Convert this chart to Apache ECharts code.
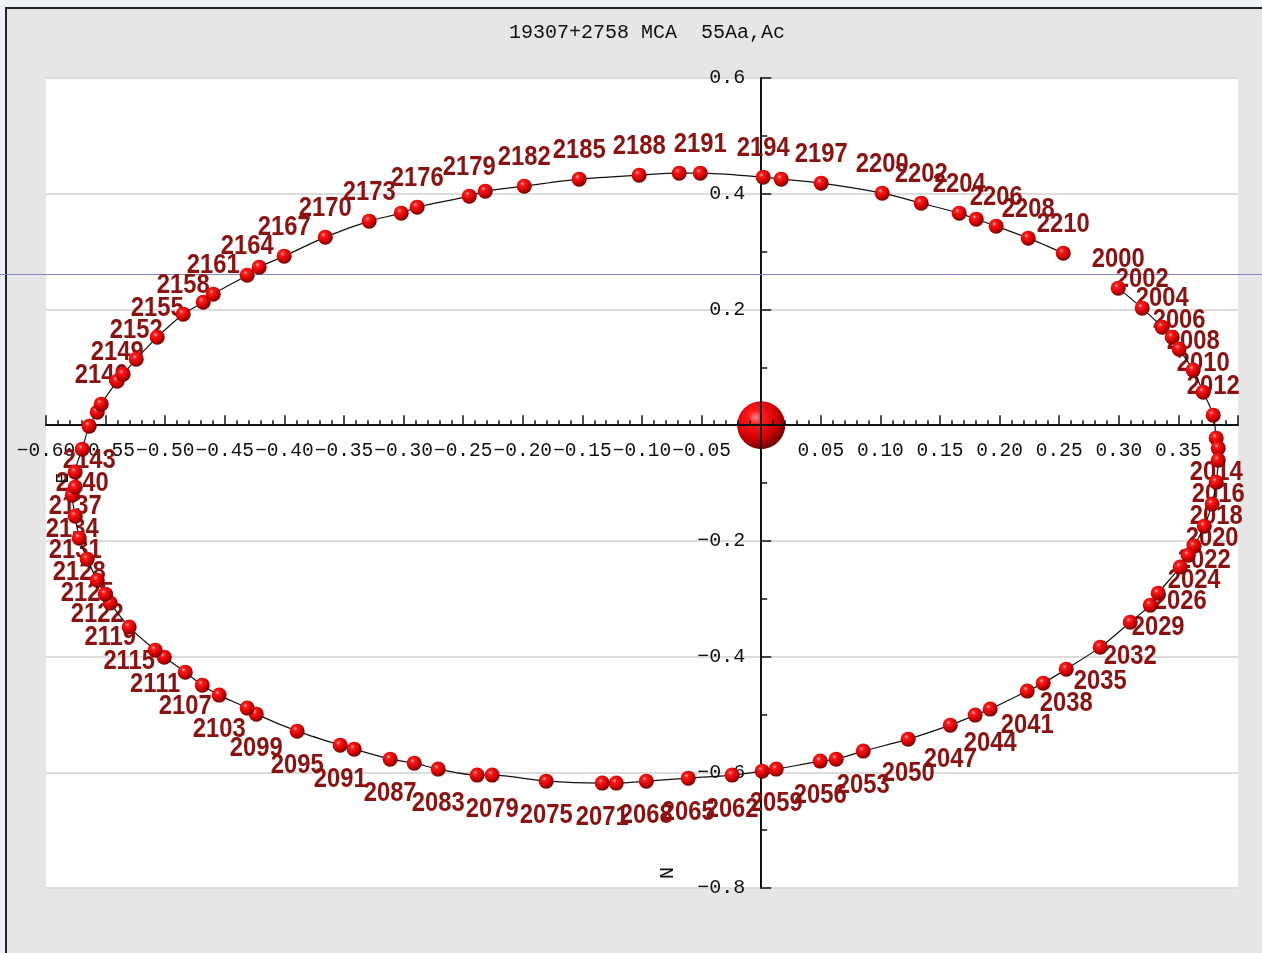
<!DOCTYPE html>
<html><head><meta charset="utf-8">
<script src="https://cdn.jsdelivr.net/npm/echarts@6/dist/echarts.min.js"></script>
<style>
html,body{margin:0;padding:0;background:#eef2f7;overflow:hidden;}
#frame{position:absolute;left:5px;top:7px;width:1257px;height:946px;box-sizing:border-box;border-left:2px solid #222;border-top:2px solid #222;background:#e6e6e6;}
#chart{position:absolute;left:0;top:0;width:1262px;height:953px;}
</style></head><body>
<div id="frame"></div><div id="chart"></div>
<script>
const titleText = '19307+2758 MCA  55Aa,Ac';
const xAxisName = 'E';
const yAxisName = 'N';

const orbitX = [0.2995,0.3196,0.3364,0.3448,0.3506,0.3624,0.3708,0.3792,0.3817,0.3834,0.3834,0.3817,0.3783,0.3717,0.3632,0.3582,0.3515,0.3330,0.3264,0.3096,
  0.2844,0.2559,0.2366,0.2232,0.1921,0.1795,0.1586,0.1233,0.0856,0.0629,0.0495,0.0126,0.0008,-0.0244,-0.0612,-0.0964,-0.1216,-0.1334,-0.1804,-0.2257,
  -0.2383,-0.2710,-0.2911,-0.3113,-0.3415,-0.3532,-0.3893,-0.4236,-0.4312,-0.4547,-0.4689,-0.4832,-0.5008,-0.5084,-0.5302,-0.5461,-0.5503,-0.5570,-0.5654,-0.5721,
  -0.5755,-0.5780,-0.5755,-0.5755,-0.5696,-0.5638,-0.5570,-0.5537,-0.5403,-0.5353,-0.5243,-0.5067,-0.4849,-0.4681,-0.4597,-0.4312,-0.4211,-0.4002,-0.3657,-0.3289,
  -0.3020,-0.2886,-0.2449,-0.2315,-0.1988,-0.1527,-0.1024,-0.0688,-0.0511,0.0017,0.0168,0.0503,0.1015,0.1342,0.1661,0.1804,0.1971,0.2240,0.2534];
const orbitY = [0.2368,0.2022,0.1694,0.1521,0.1314,0.0951,0.0570,0.0173,-0.0225,-0.0398,-0.0605,-0.0985,-0.1365,-0.1746,-0.2091,-0.2247,-0.2454,-0.2904,-0.3111,-0.3405,
  -0.3837,-0.4217,-0.4459,-0.4597,-0.4908,-0.5012,-0.5185,-0.5427,-0.5634,-0.5773,-0.5807,-0.5945,-0.5980,-0.6049,-0.6101,-0.6153,-0.6187,-0.6187,-0.6153,-0.6049,
  -0.6049,-0.5945,-0.5842,-0.5773,-0.5600,-0.5531,-0.5289,-0.4995,-0.4891,-0.4666,-0.4494,-0.4269,-0.4010,-0.3889,-0.3491,-0.3076,-0.2921,-0.2679,-0.2316,-0.1953,
  -0.1573,-0.1210,-0.1072,-0.0812,-0.0415,-0.0017,0.0225,0.0363,0.0760,0.0881,0.1141,0.1521,0.1918,0.2126,0.2264,0.2592,0.2731,0.2921,0.3249,0.3526,
  0.3664,0.3768,0.3958,0.4044,0.4131,0.4252,0.4321,0.4355,0.4355,0.4286,0.4252,0.4183,0.4010,0.3837,0.3664,0.3560,0.3439,0.3232,0.2973];
const yearLabels = ['2000','2002','2004','','2006','2008','2010','2012','2014','','2016','2018','2020','2022','2024','','2026','2029','','2032',
  '2035','2038','','2041','2044','','2047','2050','2053','','2056','2059','','2062','2065','2068','','2071','2075','2079',
  '','2083','','2087','','2091','2095','2099','','2103','','2107','','2111','2115','2119','','2122','2125','2128',
  '2131','2134','','2137','2140','2143','','2146','2149','','2152','2155','2158','','2161','2164','','2167','2170','2173',
  '','2176','2179','','2182','2185','2188','','2191','2194','','2197','2200','2202','2204','','2206','2208','2210'];
const primaryStar = [[0, 0]];

const xMin = -0.6, xMax = 0.4, xStep = 0.05;
const yMin = -0.8, yMax = 0.6, yStep = 0.2;

const G = {left:46, top:78, width:1192, height:810};
// place the axes through the origin (v6 keeps onZero labels at the grid edge)
const xAxisOffset = -((0 - yMin) / (yMax - yMin)) * G.height;
const yAxisOffset = -((0 - xMin) / (xMax - xMin)) * G.width;

function sphere(hi) {
  return {type:'radial', x:0.38, y:0.34, r:0.72, colorStops:[
    {offset:0, color:hi},{offset:0.2, color:'#ff1a1a'},{offset:0.62, color:'#d00000'},{offset:1, color:'#5e0000'}]};
}

const points = orbitX.map((x, i) => [x, orbitY[i]]);
const labelIdx = [];
yearLabels.forEach((t, i) => { if (t) labelIdx.push(i); });
const labelData = labelIdx.map(i => [orbitX[i], orbitY[i]]);
const labelText = labelIdx.map(i => yearLabels[i]);

const chart = echarts.init(document.getElementById('chart'), null, {renderer:'canvas'});
const monoFont = "'Liberation Mono','DejaVu Sans Mono',monospace";
const fmt = (v, d) => Math.abs(v) < 1e-9 ? '' : (v < 0 ? '\u2212' + Math.abs(v).toFixed(d) : v.toFixed(d));
chart.setOption({
  animation:false,
  backgroundColor:'transparent',
  grid:Object.assign({show:true, backgroundColor:'#ffffff', borderWidth:0, z:-2, containLabel:false, outerBoundsMode:'none'}, G),
  xAxis:{type:'value', min:xMin, max:xMax, interval:xStep, position:'bottom', offset:xAxisOffset,
    axisLine:{onZero:false, lineStyle:{color:'#111', width:2}},
    axisTick:{inside:true, length:10, lineStyle:{color:'#111', width:1.5}},
    minorTick:{show:true, splitNumber:5, length:5, lineStyle:{color:'#111', width:1.5}},
    axisLabel:{margin:16, fontFamily:monoFont, fontSize:19.5, color:'#111', showMinLabel:true, showMaxLabel:false,
      formatter:v => fmt(v, 2)},
    splitLine:{show:false}},
  yAxis:{type:'value', min:yMin, max:yMax, interval:yStep, position:'left', offset:yAxisOffset,
    axisLine:{onZero:false, lineStyle:{color:'#111', width:2}},
    axisTick:{inside:true, length:10, lineStyle:{color:'#111', width:1.5}},
    minorTick:{show:true, splitNumber:2, length:6, lineStyle:{color:'#111', width:1.5}},
    axisLabel:{margin:16, fontFamily:monoFont, fontSize:20, color:'#111', formatter:v => fmt(v, 1)},
    splitLine:{show:true, lineStyle:{color:'#dcdcdc', width:2}}},
  graphic:[
    {type:'line', z:1, silent:true, shape:{x1:0, y1:274.5, x2:1262, y2:274.5}, style:{stroke:'#8585c2', lineWidth:1}},
    {type:'text', x:647, y:33, z:10, style:{text:titleText, font:"20px 'Liberation Mono'", fill:'#111', align:'center', verticalAlign:'middle'}},
    {type:'text', x:668, y:873, rotation:Math.PI/2, z:10, style:{text:yAxisName, font:"20px 'Liberation Mono'", fill:'#111', align:'center', verticalAlign:'middle'}},
    {type:'text', x:63, y:478, rotation:Math.PI/2, z:10, style:{text:xAxisName, font:"18px 'Liberation Mono'", fill:'#111', align:'center', verticalAlign:'middle'}}
  ],
  series:[
    {type:'scatter', data:primaryStar, symbol:'circle', symbolSize:48, z:-1,
      itemStyle:{color:sphere('#ff8a8a'), opacity:1}, emphasis:{disabled:true}, silent:true},
    {type:'custom', data:labelData, z:2, silent:true,
      renderItem:(params, api) => {
        const y = api.value(1);
        const p = api.coord([api.value(0), y]);
        return {type:'text', x:p[0], y:p[1] + (y >= 0 ? -29 : 34), scaleX:0.85,
          style:{text:labelText[params.dataIndex], font:"bold 28px 'Liberation Sans'", fill:'#8c1212', align:'center', verticalAlign:'middle'}};
      }},
    {type:'line', data:points, smooth:0.3, symbol:'circle', symbolSize:15, showAllSymbol:true, z:3, silent:true,
      lineStyle:{color:'#111', width:1.2},
      itemStyle:{color:sphere('#ffb0b0'), borderWidth:0, opacity:1},
      label:{show:false}, emphasis:{disabled:true}}
  ]
});
</script>
</body></html>
